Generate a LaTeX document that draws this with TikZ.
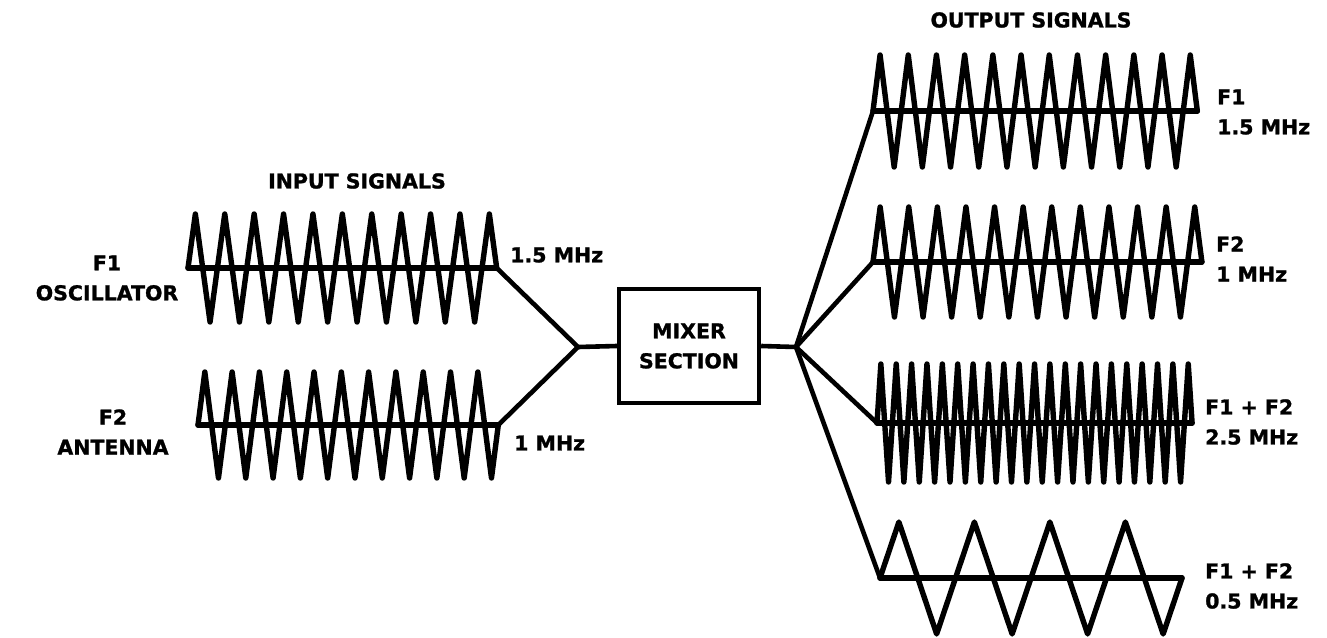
\documentclass[tikz,border=0pt]{standalone}
\usepackage{fontspec}
\setmainfont{DejaVu Sans}[BoldFeatures={FakeBold=1.2}]
\usetikzlibrary{positioning}

% start x, baseline y, period, amplitude, half cycles, name
\newcommand\sigwave[6]{%
  \coordinate (#6-in) at (#1,#2);
  \coordinate (#6-out) at ({#1+#5*#3/2},#2);
  \draw[wave] (#6-in) -- (#6-out);
  \draw[wave] (#6-in)
    \foreach \k in {1,...,#5} {-- ({#1+(2*\k-1)*#3/4},{#2-#4*(2*mod(\k,2)-1)})}
    -- (#6-out);
}

\begin{document}
\begin{tikzpicture}[
  x=1pt,
  y=-1pt,
  font=\fontsize{20.5}{30}\selectfont\bfseries,
  wave/.style={
    line width=5.4pt,
    line join=round,
    line cap=round
  },
  link/.style={
    line width=4.6pt,
    line join=round
  },
  mixbox/.style={
    draw,
    line width=4.4pt,
    minimum width=140pt,
    minimum height=114pt,
    align=center
  },
  tag/.style={
    inner sep=0pt,
    align=left,
    anchor=west
  }
]
  \useasboundingbox (0,0) rectangle (1327,637);

  % input signals
  \sigwave{188}{268}{29.4}{54}{21}{in1}
  \sigwave{198}{425}{27.3}{53}{22}{in2}

  \node[inner sep=0pt] (intitle) at (357,181) {INPUT SIGNALS};
  \node[inner sep=0pt,align=center] (osc) at (107,278) {F1\\OSCILLATOR};
  \node[inner sep=0pt,align=center] (ant) at (113,432) {F2\\ANTENNA};
  \node[tag] (in1f) at (510,255) {1.5 MHz};
  \node[tag] (in2f) at (514,443) {1 MHz};

  % mixer
  \coordinate (jin) at (578,347);
  \coordinate (jout) at (796,347);
  \node[mixbox] (mixer) at (689,346) {MIXER\\SECTION};

  \draw[link] (in1-out) -- (jin) -- (in2-out);
  \draw[link] (jin) -- (mixer.west);
  \draw[link] (mixer.east) -- (jout);

  % output signals
  \sigwave{873}{111}{28.2}{56}{23}{out1}
  \sigwave{873}{262}{28.6}{55}{23}{out2}
  \sigwave{877}{423}{15.37}{59}{41}{out3}
  \sigwave{880}{578}{75.5}{56}{8}{out4}

  \foreach \o in {out1,out2,out3,out4}
    \draw[link] (jout) -- (\o-in);

  \node[inner sep=0pt] (outtitle) at (1031,20) {OUTPUT SIGNALS};
  \node[tag] (out1f) at (1217,112) {F1\\1.5 MHz};
  \node[tag] (out2f) at (1216,259) {F2\\1 MHz};
  \node[tag] (out3f) at (1205,422) {F1 + F2\\2.5 MHz};
  \node[tag] (out4f) at (1205,586) {F1 + F2\\0.5 MHz};
\end{tikzpicture}
\end{document}
